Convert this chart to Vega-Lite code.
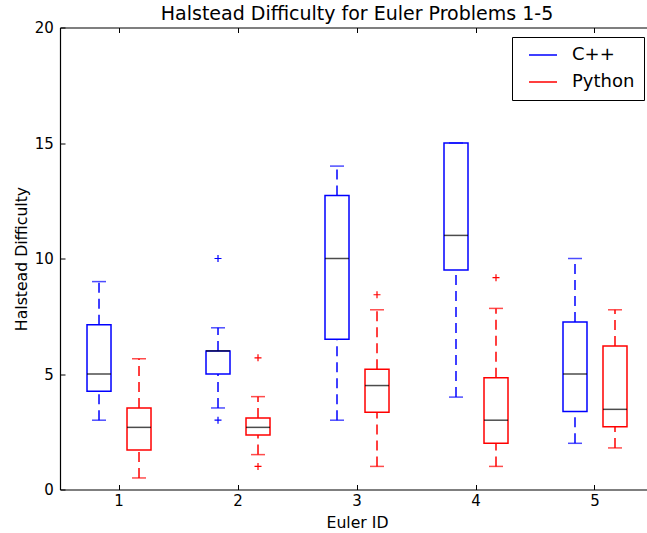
{
  "$schema": "https://vega.github.io/schema/vega-lite/v6.json",
  "autosize": "none",
  "width": 587,
  "height": 462,
  "padding": {"left": 60, "top": 27.5, "right": 0, "bottom": 43.5},
  "background": "white",
  "title": {
    "text": "Halstead Difficulty for Euler Problems 1-5",
    "font": "DejaVu Sans",
    "fontSize": 19,
    "fontWeight": "normal",
    "color": "black",
    "anchor": "middle",
    "frame": "group",
    "baseline": "alphabetic",
    "offset": 6,
    "dx": 3.5,
    "dy": 24
  },
  "config": {
    "view": {"stroke": null},
    "font": "DejaVu Sans",
    "axis": {
      "grid": false,
      "domainColor": "black",
      "domainWidth": 1.2,
      "tickColor": "black",
      "tickWidth": 1,
      "tickSize": -5,
      "labelFont": "DejaVu Sans",
      "labelFontSize": 15,
      "labelColor": "black",
      "titleFont": "DejaVu Sans",
      "titleFontSize": 15.7,
      "titleFontWeight": "normal",
      "titleColor": "black"
    },
    "axisY": {
      "labelPadding": 11.7,
      "titleX": -34,
      "titleY": 231,
      "titleBaseline": "alphabetic",
      "titleAngle": -90,
      "titleAlign": "center"
    },
    "legend": {
      "title": null,
      "orient": "none",
      "legendX": 452,
      "legendY": 9.5,
      "fillColor": "white",
      "strokeColor": "black",
      "strokeWidth": 1,
      "cornerRadius": 0,
      "padding": 9,
      "rowPadding": 9,
      "labelFont": "DejaVu Sans",
      "labelFontSize": 18,
      "labelColor": "black",
      "labelOffset": 33,
      "symbolType": "M-0.2,0H5.4",
      "symbolSize": 100,
      "symbolStrokeWidth": 1.5,
      "symbolDash": [1, 0]
    }
  },
  "datasets": {
    "boxes": [
      {"euler": 1, "lang": "C++", "lower": 3, "q1": 4.25, "median": 5, "q3": 7.13, "upper": 9},
      {"euler": 1, "lang": "Python", "lower": 0.5, "q1": 1.71, "median": 2.69, "q3": 3.53, "upper": 5.66},
      {"euler": 2, "lang": "C++", "lower": 3.53, "q1": 5, "median": 6, "q3": 6, "upper": 7},
      {"euler": 2, "lang": "Python", "lower": 1.51, "q1": 2.36, "median": 2.69, "q3": 3.1, "upper": 4.02},
      {"euler": 3, "lang": "C++", "lower": 3, "q1": 6.5, "median": 10, "q3": 12.73, "upper": 14},
      {"euler": 3, "lang": "Python", "lower": 1, "q1": 3.34, "median": 4.5, "q3": 5.21, "upper": 7.78},
      {"euler": 4, "lang": "C++", "lower": 4, "q1": 9.5, "median": 11, "q3": 15, "upper": 15},
      {"euler": 4, "lang": "Python", "lower": 1, "q1": 2, "median": 3, "q3": 4.84, "upper": 7.84},
      {"euler": 5, "lang": "C++", "lower": 2, "q1": 3.38, "median": 5, "q3": 7.25, "upper": 10},
      {"euler": 5, "lang": "Python", "lower": 1.8, "q1": 2.72, "median": 3.47, "q3": 6.21, "upper": 7.78}
    ],
    "outliers": [
      {"euler": 2, "lang": "C++", "value": 10},
      {"euler": 2, "lang": "C++", "value": 3},
      {"euler": 2, "lang": "Python", "value": 5.7},
      {"euler": 2, "lang": "Python", "value": 1},
      {"euler": 3, "lang": "Python", "value": 8.43},
      {"euler": 4, "lang": "Python", "value": 9.17}
    ]
  },
  "resolve": {"axis": {"x": "independent"}},
  "layer": [
    {
      "data": {"name": "boxes"},
      "mark": {"type": "bar", "filled": false, "strokeWidth": 1.5},
      "encoding": {
        "x": {"field": "euler", "type": "ordinal", "title": "Euler ID",
              "scale": {"paddingInner": 0.3277, "paddingOuter": 0.1303, "align": 0.613},
              "axis": {"orient": "bottom", "labelAngle": 0, "labelPadding": 9, "titleX": 297, "titleY": 38, "titleBaseline": "alphabetic", "titleAlign": "center"}},
        "xOffset": {"field": "lang", "type": "nominal", "scale": {"domain": ["C++", "Python"], "paddingInner": 0.4, "paddingOuter": 0.2}},
        "y": {"field": "q1", "type": "quantitative", "title": "Halstead Difficulty",
              "scale": {"domain": [0, 20], "nice": false, "zero": false},
              "axis": {"values": [0, 5, 10, 15, 20]}},
        "y2": {"field": "q3"},
        "color": {"field": "lang", "type": "nominal", "scale": {"domain": ["C++", "Python"], "range": ["#0000ff", "#ff0000"]}}
      }
    },
    {
      "data": {"name": "boxes"},
      "mark": {"type": "rule", "strokeDash": [10, 6], "strokeWidth": 1.5},
      "encoding": {
        "x": {"field": "euler", "type": "ordinal", "axis": {"orient": "top", "labels": false, "title": null, "domain": true}},
        "xOffset": {"field": "lang", "type": "nominal"},
        "y": {"field": "lower", "type": "quantitative", "title": "Halstead Difficulty", "axis": {"values": [0, 5, 10, 15, 20]}},
        "y2": {"field": "q1"},
        "color": {"field": "lang", "type": "nominal"}
      }
    },
    {
      "data": {"name": "boxes"},
      "mark": {"type": "rule", "strokeDash": [10, 6], "strokeWidth": 1.5},
      "encoding": {
        "x": {"field": "euler", "type": "ordinal", "axis": null},
        "xOffset": {"field": "lang", "type": "nominal"},
        "y": {"field": "q3", "type": "quantitative", "title": "Halstead Difficulty", "axis": {"values": [0, 5, 10, 15, 20]}},
        "y2": {"field": "upper"},
        "color": {"field": "lang", "type": "nominal"}
      }
    },
    {
      "data": {"name": "boxes"},
      "mark": {"type": "tick", "size": 14, "thickness": 1.5},
      "encoding": {
        "x": {"field": "euler", "type": "ordinal", "axis": null},
        "xOffset": {"field": "lang", "type": "nominal"},
        "y": {"field": "lower", "type": "quantitative", "title": "Halstead Difficulty", "axis": {"values": [0, 5, 10, 15, 20]}},
        "color": {"field": "lang", "type": "nominal"}
      }
    },
    {
      "data": {"name": "boxes"},
      "mark": {"type": "tick", "size": 14, "thickness": 1.5},
      "encoding": {
        "x": {"field": "euler", "type": "ordinal", "axis": null},
        "xOffset": {"field": "lang", "type": "nominal"},
        "y": {"field": "upper", "type": "quantitative", "title": "Halstead Difficulty", "axis": {"values": [0, 5, 10, 15, 20]}},
        "color": {"field": "lang", "type": "nominal"}
      }
    },
    {
      "data": {"name": "boxes"},
      "mark": {"type": "tick", "size": 24, "thickness": 1.5, "color": "black"},
      "encoding": {
        "x": {"field": "euler", "type": "ordinal", "axis": null},
        "xOffset": {"field": "lang", "type": "nominal"},
        "y": {"field": "median", "type": "quantitative", "title": "Halstead Difficulty", "axis": {"values": [0, 5, 10, 15, 20]}}
      }
    },
    {
      "data": {"name": "outliers"},
      "mark": {"type": "point", "shape": "M-1,0H1M0,-1V1", "size": 49, "filled": false, "strokeWidth": 1.2, "opacity": 1},
      "encoding": {
        "x": {"field": "euler", "type": "ordinal", "axis": null},
        "xOffset": {"field": "lang", "type": "nominal"},
        "y": {"field": "value", "type": "quantitative", "title": "Halstead Difficulty", "axis": {"values": [0, 5, 10, 15, 20]}},
        "color": {"field": "lang", "type": "nominal"}
      }
    }
  ]
}
